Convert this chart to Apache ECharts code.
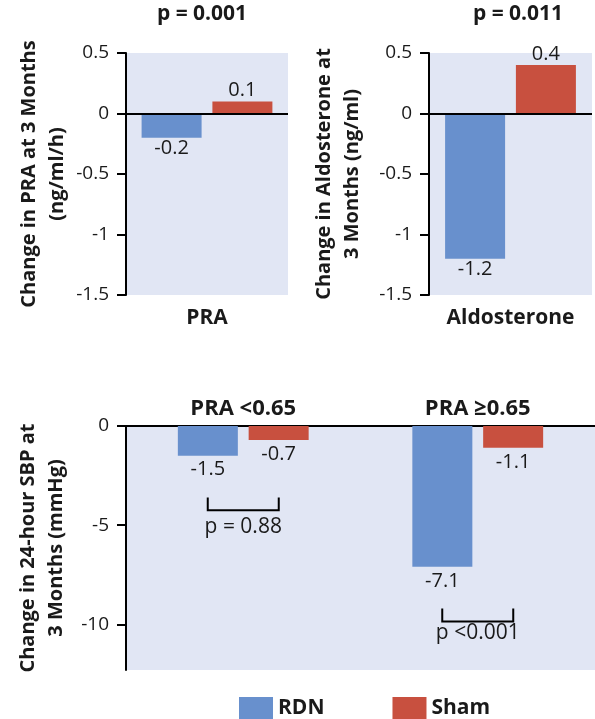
<!DOCTYPE html>
<html><head><meta charset="utf-8">
<script src="https://cdn.jsdelivr.net/npm/echarts@6/dist/echarts.min.js"></script>
<style>html,body{margin:0;padding:0;background:#fff}#c{width:595px;height:719px}</style>
</head><body><div id="c"></div>
<script>
// ---- data ----
const seriesNames = ['RDN', 'Sham'];
const praCats = ['PRA'];
const praRDN = [-0.2];
const praSham = [0.1];
const aldoCats = ['Aldosterone'];
const aldoRDN = [-1.2];
const aldoSham = [0.4];
const sbpCats = ['PRA <0.65', 'PRA ≥0.65'];
const sbpRDN = [-1.5, -7.1];
const sbpSham = [-0.7, -1.1];
const pTop = ['p = 0.001', 'p = 0.011'];
const pSbp = ['p = 0.88', 'p <0.001'];
const bracketTop = [-3.6, -9.2];
const bracketBottom = [-4.25, -9.85];
const pSbpY = [-5.1, -10.45];
const sbpTicks = [0, -5, -10];

// ---- style ----
const FONT = 'Open Sans';
const INK = '#1a1a1a';
const BLUE = '#6890CD';
const RED = '#C8503F';
const BG = '#E1E6F4';
const colors = [BLUE, RED];

function barData(arr) {
  return arr.map(v => ({ value: v, label: { position: v < 0 ? 'bottom' : 'top' } }));
}
const barLabel = { show: true, fontFamily: FONT, fontSize: 20, fontWeight: 500, color: INK, distance: 1 };
const zeroLine = { silent: true, symbol: 'none', label: { show: false }, animation: false,
  lineStyle: { color: '#000', width: 2, type: 'solid' }, data: [{ yAxis: 0 }] };

function yAxisCommon(gridIndex, name, nameGap) {
  return {
    type: 'value', gridIndex, name, nameLocation: 'middle', nameGap,
    nameTextStyle: { fontFamily: FONT, fontSize: 20, fontWeight: 'bold', color: INK, lineHeight: 28 },
    axisLine: { show: true, lineStyle: { color: '#000', width: 2 } },
    axisTick: { show: true, length: 9, lineStyle: { color: '#000', width: 2 } },
    axisLabel: { fontFamily: FONT, fontSize: 19, color: INK, margin: 17 },
    splitLine: { show: false }
  };
}

const grids = [
  { left: 126, top: 53, width: 162, height: 242, show: true, backgroundColor: BG, borderWidth: 0 },
  { left: 429, top: 53, width: 163, height: 242, show: true, backgroundColor: BG, borderWidth: 0 },
  { left: 126, top: 426, width: 494, height: 244, show: true, backgroundColor: BG, borderWidth: 0 }
];

const xAxisBottom = (gridIndex, data) => ({
  type: 'category', gridIndex, data, position: 'bottom',
  axisLine: { show: false, onZero: false }, axisTick: { show: false },
  axisLabel: { fontFamily: FONT, fontSize: 21, fontWeight: 'bold', color: INK, margin: 13 }
});

const yA0 = Object.assign(yAxisCommon(0, 'Change in PRA at 3 Months\n(ng/ml/h)', 55), { min: -1.5, max: 0.5, interval: 0.5 });
const yA1 = Object.assign(yAxisCommon(1, 'Change in Aldosterone at\n3 Months (ng/ml)', 63), { min: -1.5, max: 0.5, interval: 0.5 });
const yA2 = yAxisCommon(2, 'Change in 24-hour SBP at\n3 Months (mmHg)', 53);
yA2.min = -12.3; yA2.max = 0;
yA2.axisTick.customValues = sbpTicks;
yA2.axisLabel.customValues = sbpTicks;

const HALF = 35.5; // half distance between bar centres (px)
const bracketData = bracketTop.map((t, i) => [i, t, bracketBottom[i], pSbpY[i]]);

const option = {
  animation: false,
  backgroundColor: '#fff',
  color: colors,
  title: [
    { text: pTop[0], left: 202, top: 4, textAlign: 'center', padding: 0,
      textStyle: { fontFamily: FONT, fontSize: 21, fontWeight: 'bold', color: INK } },
    { text: pTop[1], left: 518, top: 4, textAlign: 'center', padding: 0,
      textStyle: { fontFamily: FONT, fontSize: 21, fontWeight: 'bold', color: INK } }
  ],
  legend: {
    data: seriesNames, left: 239, top: 697, itemWidth: 34, itemHeight: 22, itemGap: 68,
    icon: 'rect', padding: 0,
    textStyle: { fontFamily: FONT, fontSize: 21, fontWeight: 'bold', color: INK }
  },
  grid: grids,
  xAxis: [
    xAxisBottom(0, praCats),
    xAxisBottom(1, aldoCats),
    { type: 'category', gridIndex: 2, data: sbpCats, position: 'top',
      axisLine: { show: true, onZero: false, lineStyle: { color: '#000', width: 2 } }, axisTick: { show: false },
      axisLabel: { fontFamily: FONT, fontSize: 22, fontWeight: 'bold', color: INK, margin: 6 } }
  ],
  yAxis: [yA0, yA1, yA2],
  series: [
    { name: 'RDN', type: 'bar', xAxisIndex: 0, yAxisIndex: 0, data: barData(praRDN), barWidth: 60, barGap: '18%', label: barLabel, markLine: zeroLine },
    { name: 'Sham', type: 'bar', xAxisIndex: 0, yAxisIndex: 0, data: barData(praSham), barWidth: 60, barGap: '18%', label: barLabel },
    { name: 'RDN', type: 'bar', xAxisIndex: 1, yAxisIndex: 1, data: barData(aldoRDN), barWidth: 60, barGap: '18%', label: barLabel, markLine: zeroLine },
    { name: 'Sham', type: 'bar', xAxisIndex: 1, yAxisIndex: 1, data: barData(aldoSham), barWidth: 60, barGap: '18%', label: barLabel },
    { name: 'RDN', type: 'bar', xAxisIndex: 2, yAxisIndex: 2, data: barData(sbpRDN), barWidth: 60, barGap: '18%', label: Object.assign({}, barLabel, { distance: 4 }) },
    { name: 'Sham', type: 'bar', xAxisIndex: 2, yAxisIndex: 2, data: barData(sbpSham), barWidth: 60, barGap: '18%', label: Object.assign({}, barLabel, { distance: 4 }) },
    { type: 'custom', xAxisIndex: 2, yAxisIndex: 2, data: bracketData, silent: true, z: 5,
      renderItem: function (params, api) {
        const top = api.coord([api.value(0), api.value(1)]);
        const bot = api.coord([api.value(0), api.value(2)]);
        const txt = api.coord([api.value(0), api.value(3)]);
        const cx = top[0];
        return { type: 'group', children: [
          { type: 'polyline', shape: { points: [[cx - HALF, top[1]], [cx - HALF, bot[1]], [cx + HALF, bot[1]], [cx + HALF, top[1]]] },
            style: { stroke: '#000', lineWidth: 2, fill: null } },
          { type: 'text', x: cx, y: txt[1], style: { text: pSbp[params.dataIndex], fontFamily: FONT, fontSize: 21, fontWeight: 500, fill: INK, align: 'center', verticalAlign: 'middle' } }
        ] };
      } }
  ]
};
echarts.init(document.getElementById('c')).setOption(option);
</script>
</body></html>
